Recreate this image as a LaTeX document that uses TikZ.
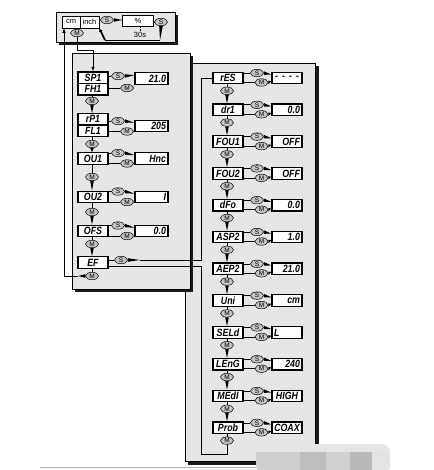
\documentclass[tikz,border=0pt]{standalone}
\usepackage{fontspec}
\setmainfont{Liberation Sans}
\newfontfamily\segfont{Liberation Sans}[FakeStretch=0.84]
\usetikzlibrary{calc,arrows.meta,shapes.geometric}
\definecolor{panelgray}{HTML}{E6E6E6}
\definecolor{ovalgray}{HTML}{C4C4C4}
\definecolor{shadowc}{HTML}{1A1A1A}
\newcommand{\htail}[2]{\fill ($(#1)+(0,-1.8)$) -- ($(#1)+(0,1.8)$) -- (#2) -- cycle;}
\newcommand{\vtail}[2]{\fill ($(#1)+(-1.8,0)$) -- ($(#1)+(1.8,0)$) -- (#2) -- cycle;}
\newcommand{\dashfour}{\hbox to 24pt{-\hfil-\hfil-\hfil-}}
\begin{document}
\begin{tikzpicture}[x=1pt,y=-1pt,
  panel/.style={fill=panelgray,draw=black,line width=0.5pt},
  shade/.style={fill=shadowc},
  disp/.style={draw,line width=1.2pt,fill=white,minimum width=30pt,minimum height=11.5pt,inner sep=0pt,font=\segfont\bfseries\itshape\fontsize{10.5}{10.5}\selectfont},
  valr/.style={disp,text width=26pt,align=right},
  valc/.style={disp,text width=26pt,align=center},
  vall/.style={disp,text width=26pt,align=left},
  wide/.style={minimum width=33pt,text width=29pt},
  btn/.style={ellipse,draw,line width=0.5pt,fill=ovalgray,minimum width=13pt,minimum height=7.5pt,inner sep=0pt,font=\fontsize{6.5}{6.5}\selectfont},
  unitbox/.style={draw,line width=0.6pt,fill=white,minimum height=12pt,inner sep=0pt,font=\fontsize{7.5}{7.5}\selectfont},
  conn/.style={line width=0.6pt},
  tip/.style={-{Latex[length=4.5pt,width=3.5pt]}}
]
\useasboundingbox (0,0) rectangle (433,470);
% bottom rule
\draw[gray!60,line width=0.8pt] (40,467) -- (258,467);
% panels
\fill[shade] (188,66) rectangle (319,465);
\draw[panel] (185,63) rectangle (315,461);
\fill[shade] (75,56) rectangle (193,292);
\draw[panel] (72,53) rectangle (190,289);
\fill[shade] (59,15) rectangle (178,45);
\draw[panel] (56,12) rectangle (175,42);

% ---------- top panel ----------
\node[unitbox,minimum width=18pt] (cm) at (71,22) {cm};
\node[unitbox,minimum width=19pt] (inch) at (89.5,22) {inch};
\node[btn] (ts1) at (107,20) {S};
\node[unitbox,minimum width=30.5pt,minimum height=11.5pt] (pct) at (138,21) {\%};
\node[font=\fontsize{7.5}{7.5}\selectfont,inner sep=0pt] (t30) at (140,34.5) {30s};
\node[btn] (ts2) at (161,22) {S};
\node[btn] (tm0) at (77,33) {M};
\coordinate (c1) at (160,40);
\coordinate (c2) at (105,40);
\coordinate (c3) at (93,50.5);
\coordinate (c5) at (64,276);

\draw[conn] (ts1.west -| inch.east) -- (ts1.west);
\htail{ts1.east}{ts1.east -| pct.west}
\draw[conn] (ts2.west -| pct.east) -- (ts2.west);
\draw[conn,densely dotted] (pct.south -| t30) -- (t30.north);
\vtail{ts2.south}{c1}
\draw[conn] (c1) -- (c2);
\draw[line width=1.7pt,-{Latex[length=3.5pt,width=4pt]}] (c2) -- (inch.south east);
\draw[conn] (tm0.north |- cm.south) -- (tm0.north);

% ---------- left panel ----------
\node[disp] (sp1) at (93,77.75) {SP1};
\node[disp] (fh1) at (93,89.25) {FH1};
\node[btn] (ls1) at (118,76) {S};
\node[btn] (lm1) at (127,88) {M};
\node[valr,wide] (lv1) at (151.5,78.5) {21.0};
\node[btn] (ld1) at (92,101) {M};

\node[disp] (rp1) at (93,119.25) {rP1};
\node[disp] (fl1) at (93,130.75) {FL1};
\node[btn] (ls2) at (118,121) {S};
\node[btn] (lm2) at (127,131.5) {M};
\node[valr,wide] (lv2) at (151.5,126) {205};
\node[btn] (ld2) at (92,144) {M};

\node[disp] (ou1) at (93,158.5) {OU1};
\node[btn] (ls3) at (118,153) {S};
\node[btn] (lm3) at (127,163.5) {M};
\node[valr,wide] (lv3) at (151.5,158.5) {Hnc};
\node[btn] (ld3) at (92,177) {M};

\node[disp] (ou2) at (93,197) {OU2};
\node[btn] (ls4) at (118,191.5) {S};
\node[btn] (lm4) at (127,202) {M};
\node[valr,wide] (lv4) at (151.5,197) {I};
\node[btn] (ld4) at (92,212) {M};

\node[disp] (ofs) at (93,231) {OFS};
\node[btn] (ls5) at (118,225.5) {S};
\node[btn] (lm5) at (127,236) {M};
\node[valr,wide] (lv5) at (151.5,231) {0.0};
\node[btn] (ld5) at (92,244) {M};

\node[disp] (ef) at (93,262.5) {EF};
\node[btn] (ls6) at (121,260) {S};
\node[btn] (ld6) at (92,276) {M};
\coordinate (e1) at (140,260);
\coordinate (e2) at (201,260);
\coordinate (e3) at (201,266);
\coordinate (e4) at (201,454);

% side links left panel
\foreach \b/\s/\m/\v in {sp1/ls1/lm1/lv1, rp1/ls2/lm2/lv2, ou1/ls3/lm3/lv3, ou2/ls4/lm4/lv4, ofs/ls5/lm5/lv5}{
  \draw[conn] (\s.west -| \b.east) -- (\s.west);
  \htail{\s.east}{$(\v.north west)+(0,3)$}
  \htail{\m.east}{$(\v.south west)+(0,-3)$}
}
\draw[conn] (lm1.west -| fh1.east) -- (lm1.west);
\draw[conn] (lm2.west -| fl1.east) -- (lm2.west);
\foreach \b/\m in {ou1/lm3, ou2/lm4, ofs/lm5}{
  \draw[conn] (\m.west -| \b.east) -- (\m.west);
}
% vertical chain left
\foreach \a/\d/\n in {fh1/ld1/rp1, fl1/ld2/ou1, ou1/ld3/ou2, ou2/ld4/ofs, ofs/ld5/ef}{
  \draw[conn] (\a.south -| \d) -- (\d.north);
  \vtail{\d.south}{\d.south |- \n.north}
}
\draw[conn] (ef.south -| ld6) -- (ld6.north);
% entry from top panel
\draw[conn,tip] (tm0.south) -- (tm0.south |- c3) -- (c3) -- (sp1.north);
% return to cm
\htail{ld6.west}{78,276}
\draw[conn,tip] (78,276) -- (c5) -- (c5 |- cm.south);
% EF S link to right panel
\draw[conn] (ls6.west -| ef.east) -- (ls6.west);
\htail{ls6.east}{e1}

% ---------- right panel ----------
\foreach \lab/\val/\al [count=\k from 0] in {rES/\dashfour/c, dr1/0.0/r, FOU1/OFF/r, FOU2/OFF/r, dFo/0.0/r, ASP2/1.0/r, AEP2/21.0/r, Uni/cm/r, SELd/L/l, LEnG/240/r, MEdI/HIGH/c, Prob/COAX/c}{
  \pgfmathsetmacro\cy{78+31.8*\k}
  \node[disp] (rb\k) at (228,\cy) {\lab};
  \node[val\al] (rv\k) at (287,\cy) {\val};
  \node[btn] (rs\k) at (257,\cy-5) {S};
  \node[btn] (rm\k) at (261.5,\cy+4.5) {M};
  \node[btn] (rd\k) at (227,\cy+12.8) {M};
  \draw[conn] (rs\k.west -| rb\k.east) -- (rs\k.west);
  \draw[conn] (rm\k.west -| rb\k.east) -- (rm\k.west);
  \htail{rs\k.east}{$(rv\k.north west)+(0,3)$}
  \htail{rm\k.east}{$(rv\k.south west)+(0,-3)$}
  \draw[conn] (rb\k.south -| rd\k) -- (rd\k.north);
}
\foreach \a/\b in {0/1,1/2,2/3,3/4,4/5,5/6,6/7,7/8,8/9,9/10,10/11}{
  \vtail{rd\a.south}{rd\a.south |- rb\b.north}
}
% loop lines
\draw[conn] (e1) -- (e2) -- (e2 |- rb0.west) -- (rb0.west);
\draw[conn] (e3 -| ef.east) -- (e3) -- (e4) -- (e4 -| rd11) -- (rd11.south);

% ---------- blurred watermark ----------
\begin{scope}
\clip[rounded corners=9pt] (256,444) rectangle (390,474);
\fill[gray!30] (256,444) rectangle (390,474);
\fill[gray!38] (256,452) rectangle (300,474);
\fill[gray!52] (300,452) rectangle (326,474);
\fill[gray!36] (326,452) rectangle (350,474);
\fill[gray!55] (350,452) rectangle (372,474);
\fill[gray!22] (372,452) rectangle (390,474);
\fill[gray!20] (256,444) rectangle (390,452);
\end{scope}
\end{tikzpicture}
\end{document}
